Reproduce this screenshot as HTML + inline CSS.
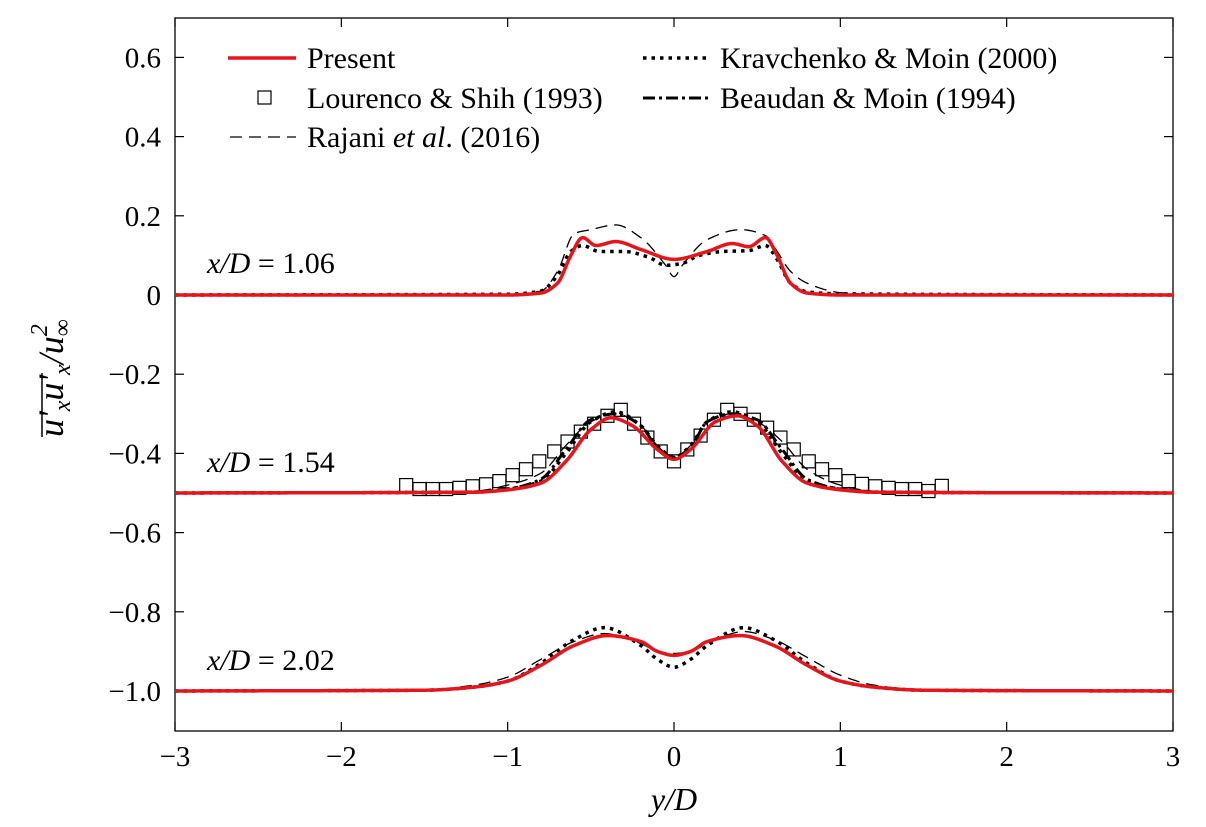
<!DOCTYPE html>
<html><head><meta charset="utf-8"><style>
html,body{margin:0;padding:0;background:#fff}
svg, svg text{font-family:"Liberation Serif",serif}
</style></head><body>
<svg id="chart" width="1206" height="827" viewBox="0 0 1206 827" xmlns="http://www.w3.org/2000/svg" style="position:absolute;left:0;top:0;font-family:'Liberation Serif',serif">
<g id="plot"></g>
</svg>
<script>
const xTicks=[-3,-2,-1,0,1,2,3];
const xTickLabels=["\u22123","\u22122","\u22121","0","1","2","3"];
const yTicks=[0.6,0.4,0.2,0,-0.2,-0.4,-0.6,-0.8,-1.0];
const yTickLabels=["0.6","0.4","0.2","0","\u22120.2","\u22120.4","\u22120.6","\u22120.8","\u22121.0"];

const presentA_x=[-3,-1,-0.8,-0.7,-0.62,-0.55,-0.47,-0.35,-0.2,0,0.2,0.35,0.45,0.55,0.62,0.7,0.8,1,3];
const presentA_y=[0,0,0.005,0.03,0.1,0.145,0.125,0.135,0.115,0.09,0.11,0.13,0.122,0.145,0.1,0.03,0.005,0,0];
const presentB_x=[-3,-1.2,-1.0,-0.8,-0.65,-0.5,-0.38,-0.25,-0.1,0,0.1,0.25,0.38,0.5,0.65,0.8,1.0,1.2,3];
const presentB_y=[-0.5,-0.498,-0.492,-0.475,-0.42,-0.34,-0.31,-0.33,-0.39,-0.415,-0.39,-0.32,-0.305,-0.33,-0.42,-0.475,-0.492,-0.498,-0.5];
const presentC_x=[-3,-1.5,-1.2,-1.0,-0.8,-0.6,-0.4,-0.2,-0.1,0,0.1,0.2,0.4,0.6,0.8,1.0,1.2,1.5,3];
const presentC_y=[-1,-0.998,-0.99,-0.975,-0.935,-0.885,-0.86,-0.875,-0.9,-0.91,-0.9,-0.875,-0.86,-0.885,-0.935,-0.975,-0.99,-0.998,-1];
const kravA_x=[-3,-1,-0.8,-0.7,-0.62,-0.55,-0.45,-0.3,-0.15,-0.05,0.05,0.15,0.3,0.45,0.55,0.62,0.7,0.8,1,3];
const kravA_y=[0,0.002,0.01,0.05,0.11,0.125,0.11,0.11,0.095,0.075,0.08,0.1,0.11,0.112,0.125,0.09,0.03,0.008,0.003,0];
const kravB_x=[-3,-1.2,-1.0,-0.8,-0.65,-0.5,-0.35,-0.2,-0.1,0,0.1,0.2,0.35,0.5,0.65,0.8,1.0,1.2,3];
const kravB_y=[-0.5,-0.498,-0.49,-0.47,-0.4,-0.32,-0.295,-0.33,-0.38,-0.41,-0.38,-0.32,-0.295,-0.32,-0.4,-0.47,-0.49,-0.498,-0.5];
const kravC_x=[-3,-1.5,-1.2,-1.0,-0.8,-0.6,-0.42,-0.2,-0.1,0,0.1,0.2,0.42,0.6,0.8,1.0,1.2,1.5,3];
const kravC_y=[-1,-0.998,-0.99,-0.975,-0.93,-0.87,-0.84,-0.885,-0.92,-0.94,-0.92,-0.885,-0.84,-0.87,-0.93,-0.975,-0.99,-0.998,-1];
const beauB_x=[-3,-1.2,-1.0,-0.8,-0.65,-0.5,-0.35,-0.2,-0.1,0,0.1,0.2,0.35,0.5,0.65,0.8,1.0,1.2,3];
const beauB_y=[-0.5,-0.497,-0.49,-0.465,-0.39,-0.315,-0.3,-0.33,-0.385,-0.41,-0.385,-0.32,-0.3,-0.315,-0.39,-0.465,-0.49,-0.497,-0.5];
const rajA_x=[-3,-1,-0.8,-0.7,-0.6,-0.5,-0.35,-0.2,-0.05,0,0.05,0.2,0.4,0.55,0.62,0.7,0.8,1.0,1.2,3];
const rajA_y=[0,0.002,0.01,0.06,0.155,0.165,0.177,0.145,0.075,0.046,0.075,0.14,0.165,0.15,0.11,0.06,0.03,0.006,0.002,0];
const rajB_x=[-3,-1.2,-1.0,-0.8,-0.65,-0.5,-0.35,-0.2,-0.1,0,0.1,0.2,0.35,0.5,0.65,0.8,1.0,1.2,3];
const rajB_y=[-0.5,-0.495,-0.48,-0.45,-0.38,-0.32,-0.3,-0.33,-0.38,-0.41,-0.38,-0.32,-0.3,-0.32,-0.37,-0.44,-0.48,-0.495,-0.5];
const rajC_x=[-3,-1.5,-1.2,-1.0,-0.8,-0.6,-0.42,-0.2,-0.1,0,0.1,0.2,0.42,0.6,0.8,1.0,1.2,1.5,3];
const rajC_y=[-1,-0.997,-0.985,-0.965,-0.92,-0.875,-0.855,-0.88,-0.9,-0.905,-0.9,-0.88,-0.85,-0.87,-0.915,-0.96,-0.985,-0.997,-1];
const lsX=[-1.61,-1.53,-1.45,-1.37,-1.29,-1.21,-1.13,-1.05,-0.97,-0.89,-0.81,-0.72,-0.64,-0.56,-0.48,-0.40,-0.32,-0.24,-0.16,-0.08,0,0.08,0.16,0.24,0.32,0.40,0.48,0.56,0.64,0.72,0.81,0.89,0.97,1.05,1.13,1.21,1.29,1.37,1.45,1.53,1.61];
const lsY=[-0.48,-0.49,-0.49,-0.49,-0.487,-0.483,-0.478,-0.47,-0.455,-0.44,-0.42,-0.395,-0.37,-0.345,-0.325,-0.305,-0.29,-0.325,-0.36,-0.395,-0.42,-0.39,-0.355,-0.315,-0.29,-0.3,-0.315,-0.335,-0.36,-0.39,-0.42,-0.44,-0.455,-0.47,-0.477,-0.483,-0.487,-0.49,-0.49,-0.495,-0.482];

const NS="http://www.w3.org/2000/svg";
const L=175,R=1173,T=18,B=731;
const sx=v=>L+(v+3)/6*(R-L);
const sy=v=>295-v*396;
const g=document.getElementById('plot');
function el(tag,attrs,parent){const e=document.createElementNS(NS,tag);for(const k in attrs)e.setAttribute(k,attrs[k]);(parent||g).appendChild(e);return e;}
function smooth(xs,ys){
  const n=xs.length,h=[],d=[],m=new Array(n);
  for(let i=0;i<n-1;i++){h[i]=xs[i+1]-xs[i];d[i]=(ys[i+1]-ys[i])/h[i];}
  m[0]=d[0];m[n-1]=d[n-2];
  for(let i=1;i<n-1;i++){
    if(d[i-1]*d[i]<=0)m[i]=0;
    else{const w1=2*h[i]+h[i-1],w2=h[i]+2*h[i-1];m[i]=(w1+w2)/(w1/d[i-1]+w2/d[i]);}
  }
  let s="M"+sx(xs[0])+","+sy(ys[0]);
  for(let i=0;i<n-1;i++){
    const steps=Math.max(2,Math.ceil(h[i]/0.01));
    for(let k=1;k<=steps;k++){
      const t=k/steps,t2=t*t,t3=t2*t;
      const y=(2*t3-3*t2+1)*ys[i]+(t3-2*t2+t)*h[i]*m[i]+(-2*t3+3*t2)*ys[i+1]+(t3-t2)*h[i]*m[i+1];
      s+="L"+sx(xs[i]+t*h[i]).toFixed(2)+","+sy(y).toFixed(2);
    }
  }
  return s;
}
const styles={
  present:{stroke:"#e8141c","stroke-width":3.5,fill:"none","stroke-linejoin":"round"},
  krav:{stroke:"#000","stroke-width":3.5,fill:"none","stroke-dasharray":"3.5 5"},
  beau:{stroke:"#000","stroke-width":3,fill:"none","stroke-dasharray":"12 4 3 4"},
  raj:{stroke:"#000","stroke-width":1.3,fill:"none","stroke-dasharray":"12 7"}
};
function series(name,xs,ys,st){const p=el('path',Object.assign({d:smooth(xs,ys)},st));

}

const fr=el('rect',{x:L,y:T,width:R-L,height:B-T,fill:"none",stroke:"#000","stroke-width":1.3});



xTicks.forEach((v,i)=>{
  const x=sx(v);
  el('line',{x1:x,x2:x,y1:B,y2:B-9,stroke:"#000","stroke-width":1.2});
  el('line',{x1:x,x2:x,y1:T,y2:T+9,stroke:"#000","stroke-width":1.2});
  const t=el('text',{x:x,y:766,"text-anchor":"middle","font-size":29,"font-family":"Liberation Serif, serif"});
  t.textContent=xTickLabels[i];
  
  
});
yTicks.forEach((v,i)=>{
  const y=sy(v);
  el('line',{x1:L,x2:L+9,y1:y,y2:y,stroke:"#000","stroke-width":1.2});
  el('line',{x1:R,x2:R-9,y1:y,y2:y,stroke:"#000","stroke-width":1.2});
  const t=el('text',{x:161,y:y+10,"text-anchor":"end","font-size":29,"font-family":"Liberation Serif, serif"});
  t.textContent=yTickLabels[i];
  
  
});

series('rajani-1.06',rajA_x,rajA_y,styles.raj);
series('rajani-1.54',rajB_x,rajB_y,styles.raj);
series('rajani-2.02',rajC_x,rajC_y,styles.raj);
lsX.forEach((x,i)=>{
  const r=el('rect',{x:sx(x)-6.5,y:sy(lsY[i])-6.5,width:13,height:13,fill:"none",stroke:"#000","stroke-width":1.2});
  
  
});
series('beaudan-1.54',beauB_x,beauB_y,styles.beau);
series('kravchenko-1.06',kravA_x,kravA_y,styles.krav);
series('kravchenko-1.54',kravB_x,kravB_y,styles.krav);
series('kravchenko-2.02',kravC_x,kravC_y,styles.krav);
series('present-1.06',presentA_x,presentA_y,styles.present);
series('present-1.54',presentB_x,presentB_y,styles.present);
series('present-2.02',presentC_x,presentC_y,styles.present);
</script>
<svg style="position:absolute;left:0;top:0;font-family:'Liberation Serif',serif" width="1206" height="827">
<g font-family="'Liberation Serif', serif" font-size="30">
<g>
<line x1="228" x2="296" y1="58" y2="58" stroke="#e8141c" stroke-width="3.5"/>
<text x="307" y="68">Present</text>
<rect x="258" y="91" width="13" height="13" fill="none" stroke="#000" stroke-width="1.2"/>
<text x="307" y="108">Lourenco &amp; Shih (1993)</text>
<line x1="230" x2="296" y1="137" y2="137" stroke="#000" stroke-width="1.3" stroke-dasharray="12 7"/>
<text x="307" y="147">Rajani <tspan font-style="italic">et al</tspan>. (2016)</text>
<line x1="643" x2="710" y1="58" y2="58" stroke="#000" stroke-width="3.5" stroke-dasharray="3.5 5"/>
<text x="720" y="68">Kravchenko &amp; Moin (2000)</text>
<line x1="643" x2="710" y1="98" y2="98" stroke="#000" stroke-width="3" stroke-dasharray="12 4 3 4"/>
<text x="720" y="108">Beaudan &amp; Moin (1994)</text>
</g>
<text x="207" y="273" font-style="italic">x/D<tspan font-style="normal"> = 1.06</tspan></text>
<text x="207" y="472" font-style="italic">x/D<tspan font-style="normal"> = 1.54</tspan></text>
<text x="207" y="670" font-style="italic">x/D<tspan font-style="normal"> = 2.02</tspan></text>
<text x="674" y="810" text-anchor="middle" font-size="32" font-style="italic">y/D</text>
<g transform="translate(63,437) rotate(-90)">
<text x="0" y="0" font-size="36" font-style="italic">u'<tspan font-size="24" dy="7">x</tspan><tspan dy="-7">u'</tspan><tspan font-size="24" dy="7">x</tspan><tspan dy="-7">/u</tspan><tspan font-size="24" dy="-16">2</tspan><tspan font-size="24" dy="23" dx="-12" font-style="normal">∞</tspan></text>
<line x1="0" x2="64" y1="-21" y2="-21" stroke="#000" stroke-width="1.5"/>
</g>
</g>
</svg>
</body></html>
